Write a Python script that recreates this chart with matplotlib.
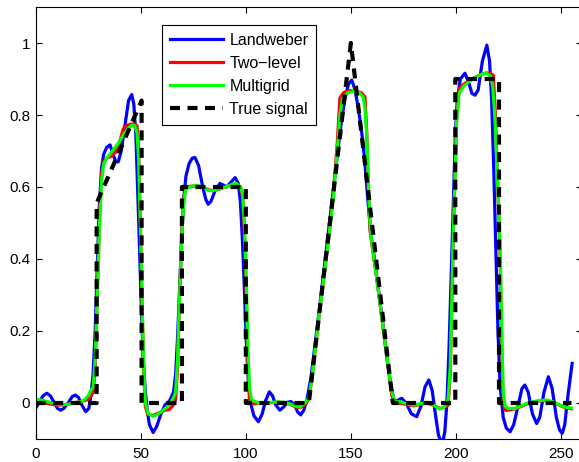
import matplotlib
matplotlib.use("Agg")
import matplotlib.pyplot as plt

# ---------------- data ----------------
true_x = [0, 29, 29, 50.4, 50.4, 69.6, 69.6, 100, 100, 130, 150, 170, 199.7, 199.7, 220.5, 220.5, 255]
true_y = [0, 0, 0.555, 0.84, 0, 0, 0.6, 0.6, 0, 0, 1.0, 0, 0, 0.9, 0.9, 0, 0]

lw_x = [0, 1.5, 3.5, 5.3, 7, 8.9, 10.4, 11.9, 13.4, 15.4, 17.4, 18.9, 20.4, 21.9, 23.8, 25.3, 26.3,
        27.3, 28.3, 29.3, 30.3, 31.3, 32.3, 33.8, 35.4, 36.8, 38.2, 39.3, 40.7, 42.7, 44.2, 45.7,
        46.7, 47.7, 48.5, 49.2, 50.2, 51.2, 52.2, 53.1, 54.1, 55.9, 57.6, 59.6, 61.6, 63.6, 65.6,
        66.6, 67.5, 68.5, 69.5, 70.5, 71.5, 73, 74.5, 75.8, 77.5, 79.5, 81, 82.1, 83.4, 85.4,
        87.7, 89.4, 90.9, 92.4, 94.9, 96.4, 97.4, 98.4, 99.3, 100.3, 101.3, 102.3, 103.8, 106,
        107.8, 109.3, 111.2, 112.7, 114.2, 116.2, 118.2, 119.7, 121.5, 123.2, 124.7, 126.1,
        127.6, 129.1, 131, 135, 139, 143, 145, 147, 148.8, 150.4, 152, 153.5, 155, 156.5, 158,
        159.5, 161, 163, 165, 167, 169, 170.5, 171.3, 174.2, 176.3, 178.8, 181.3, 183.3, 185.3,
        187.1, 188.7, 190.2, 191.7, 193.5, 194.7, 195.7, 196.7, 197.7, 198.7, 199.7, 200.6,
        202.1, 204.3, 206.1, 207.6, 209.1, 210.6, 212.6, 214.7, 216, 217, 218, 219, 220, 221,
        222.5, 224, 225.8, 227.5, 229.5, 231.4, 232.8, 234.4, 236.4, 238.4, 239.9, 241.9, 244,
        245.8, 247.8, 249.3, 250.6, 251.8, 253.3, 255.3]
lw_y = [-0.015, 0.0, 0.02, 0.027, 0.02, 0.0, -0.015, -0.02, -0.015, 0.0, 0.018, 0.022, 0.015,
        -0.005, -0.024, -0.015, 0.02, 0.08, 0.2, 0.38, 0.55, 0.65, 0.69, 0.71, 0.717, 0.69, 0.67,
        0.67, 0.7, 0.78, 0.84, 0.857, 0.83, 0.74, 0.6, 0.47, 0.28, 0.12, 0.03, -0.02, -0.06,
        -0.082, -0.065, -0.03, -0.005, 0.005, 0.03, 0.08, 0.18, 0.32, 0.46, 0.57, 0.63, 0.665,
        0.68, 0.682, 0.66, 0.6, 0.565, 0.552, 0.56, 0.59, 0.61, 0.605, 0.6, 0.61, 0.626, 0.61,
        0.56, 0.45, 0.32, 0.16, 0.05, 0.0, -0.035, -0.052, -0.03, 0.005, 0.031, 0.02, -0.005,
        -0.02, -0.01, 0.002, 0.004, -0.005, -0.025, -0.033, -0.02, 0.01, 0.07, 0.26, 0.46, 0.66,
        0.76, 0.84, 0.885, 0.897, 0.87, 0.82, 0.76, 0.68, 0.57, 0.47, 0.41, 0.32, 0.23, 0.13,
        0.05, 0.01, 0.005, 0.013, 0.0, -0.03, -0.038, -0.01, 0.045, 0.064, 0.035, -0.03, -0.09,
        -0.115, -0.08, 0.0, 0.15, 0.35, 0.55, 0.74, 0.84, 0.9, 0.916, 0.89, 0.86, 0.855, 0.87,
        0.95, 0.994, 0.95, 0.84, 0.65, 0.42, 0.2, 0.05, -0.04, -0.07, -0.08, -0.06, -0.01, 0.04,
        0.05, 0.03, -0.03, -0.057, -0.04, 0.03, 0.073, 0.04, -0.04, -0.075, -0.084, -0.06, 0.02,
        0.11]

mg_x = [0, 3, 6, 9, 12, 15, 18, 21, 23, 25, 26.3, 27.4, 28.3, 29.3, 30.4, 31.4, 32.4, 33.8, 35.8,
        37.8, 39.7, 41.7, 43.7, 45.7, 47.2, 48.2, 49.0, 49.8, 50.6, 51.4, 52.2, 53.6, 55.9, 57.6,
        59.6, 61.6, 63.6, 65.6, 66.6, 67.5, 68.5, 69.5, 70.5, 71.5, 73.5, 76.5, 79.5, 82.4, 84.4,
        87.4, 90.4, 93.4, 95.4, 97.5, 98.5, 99.3, 100.2, 101, 101.8, 102.8, 106.3, 109.3, 112.2,
        115.2, 118.2, 121.2, 124.2, 126.1, 128.1, 130, 131.5, 135, 139.3, 141.5, 143.5, 144.8,
        146, 148.5, 151.5, 154, 155.8, 156.7, 157.6, 158.4, 159.2, 160.5, 162, 164, 166, 168,
        169.5, 171, 174, 177, 180, 183, 186, 189, 192.4, 194.6, 196.3, 197.3, 198.8, 200.4,
        201.5, 203.6, 206.6, 209.6, 212.6, 214.6, 216.5, 217.5, 218.6, 219.8, 221, 221.8, 222.5,
        223.5, 225, 228, 231, 234, 237, 240, 243.2, 246.3, 249.3, 252.3, 255]
mg_y = [0.01, 0.008, 0.003, -0.002, -0.005, -0.004, -0.001, 0.003, 0.008, 0.02, 0.035, 0.045,
        0.12, 0.3, 0.5, 0.62, 0.665, 0.68, 0.695, 0.71, 0.725, 0.745, 0.76, 0.772, 0.77, 0.75,
        0.68, 0.5, 0.3, 0.1, 0.0, -0.03, -0.037, -0.033, -0.025, -0.015, -0.005, 0.015, 0.03,
        0.12, 0.3, 0.46, 0.56, 0.595, 0.6, 0.605, 0.6, 0.59, 0.59, 0.595, 0.6, 0.607, 0.61, 0.6,
        0.58, 0.5, 0.35, 0.15, 0.04, 0.008, 0.0, 0.0, 0.002, 0.003, 0.002, -0.003, -0.01, -0.01,
        0.0, 0.015, 0.07, 0.25, 0.45, 0.56, 0.7, 0.8, 0.845, 0.862, 0.866, 0.862, 0.85, 0.82,
        0.74, 0.6, 0.49, 0.42, 0.36, 0.27, 0.18, 0.09, 0.03, 0.005, 0.003, -0.003, -0.006,
        -0.002, 0.002, -0.005, -0.017, -0.01, 0.01, 0.1, 0.48, 0.79, 0.86, 0.88, 0.895, 0.905,
        0.914, 0.916, 0.908, 0.88, 0.79, 0.62, 0.45, 0.2, 0.03, -0.01, -0.015, -0.015, -0.008,
        0.0, 0.004, 0.007, 0.008, 0.003, -0.005, -0.012, -0.014]

tl_x = [0, 3, 6, 9, 12, 15, 18, 21, 23, 25, 26.3, 27.4, 28.3, 29.3, 30.4, 31.4, 32.4, 33.8, 35.8,
        37.8, 39.7, 41.7, 43.7, 45.7, 47.2, 48.2, 49.0, 49.8, 50.6, 51.4, 52.2, 53.2, 55.6, 57.6,
        59.6, 61.6, 63.6, 65.6, 66.6, 67.5, 68.5, 69.5, 70.5, 71.5, 73.5, 76.5, 79.5, 82.4, 84.4,
        87.4, 90.4, 93.4, 95.4, 97.5, 98.5, 99.3, 100.2, 101, 101.8, 103.3, 106.3, 109.3, 112.2,
        115.2, 118.2, 121.2, 124.2, 126.1, 128.1, 130, 131.5, 135, 139.3, 141.5, 143.5, 144.8,
        146.5, 149, 152, 155, 156.7, 157.5, 158.3, 159.1, 160.5, 162, 164, 166, 168, 169.5, 171,
        174, 177, 180, 183, 186, 189, 192.4, 194.6, 196.3, 197.3, 198.8, 200.4, 201.6, 203.6,
        206.6, 209.6, 212.6, 214.6, 216.5, 217.8, 218.8, 219.8, 221, 221.8, 222.5, 223.5, 225,
        228, 231, 234, 237, 240, 243.2, 246.3, 249.3, 252.3, 255]
tl_y = [0.005, 0.003, -0.002, -0.005, -0.006, -0.004, 0.0, 0.004, 0.006, 0.01, 0.02, 0.03, 0.1,
        0.3, 0.52, 0.64, 0.67, 0.68, 0.685, 0.695, 0.72, 0.762, 0.772, 0.775, 0.775, 0.77, 0.7,
        0.5, 0.28, 0.08, -0.01, -0.03, -0.035, -0.03, -0.025, -0.02, -0.018, -0.005, 0.01, 0.1,
        0.3, 0.47, 0.57, 0.6, 0.602, 0.603, 0.6, 0.592, 0.59, 0.594, 0.6, 0.606, 0.608, 0.6,
        0.57, 0.48, 0.3, 0.1, 0.0, -0.003, 0.0, 0.0, 0.001, 0.002, 0.001, -0.004, -0.012,
        -0.012, -0.005, 0.01, 0.07, 0.25, 0.45, 0.57, 0.72, 0.847, 0.862, 0.868, 0.866, 0.862,
        0.85, 0.76, 0.6, 0.48, 0.42, 0.36, 0.27, 0.18, 0.09, 0.02, 0.0, -0.001, -0.005, -0.008,
        -0.004, 0.0, -0.006, -0.015, -0.012, -0.006, 0.08, 0.48, 0.8, 0.875, 0.885, 0.897,
        0.906, 0.914, 0.917, 0.915, 0.91, 0.8, 0.62, 0.42, 0.15, 0.0, -0.02, -0.02, -0.016,
        -0.01, -0.002, 0.003, 0.006, 0.007, 0.002, -0.006, -0.014, -0.016]

labels = ["Landweber", "Two\u2212level", "Multigrid", "True signal"]
xticks = [0, 50, 100, 150, 200, 250]
yticks = [0, 0.2, 0.4, 0.6, 0.8, 1.0]
ytick_labels = ["0", "0.2", "0.4", "0.6", "0.8", "1"]

# ---------------- plot ----------------
plt.rcParams['font.family'] = ['Liberation Sans', 'DejaVu Sans']
fig = plt.figure(figsize=(5.79, 4.62), dpi=100)
ax = fig.add_axes([35.7 / 579, 23 / 462, 546.3 / 579, 432 / 462])

ax.plot(lw_x, lw_y, color='#0000ff', lw=2.3, label=labels[0], solid_joinstyle='round')
ax.plot(tl_x, tl_y, color='#ff0000', lw=2.3, label=labels[1], solid_joinstyle='round')
ax.plot(mg_x, mg_y, color='#00ff00', lw=2.3, label=labels[2], solid_joinstyle='round')
ax.plot(true_x, true_y, color='black', lw=3.0, ls=(0, (2.4, 1.8)), label=labels[3])

ax.set_xlim(0, 260)
ax.set_ylim(-0.1, 1.1)
ax.set_xticks(xticks)
ax.set_yticks(yticks)
ax.set_yticklabels(ytick_labels)
ax.tick_params(direction='in', length=4.3, width=0.8, top=True, right=True,
               labelsize=11, pad=4)
ax.tick_params(axis='x', pad=6)
for s in ax.spines.values():
    s.set_linewidth(0.8)
    s.set_color('black')

leg = ax.legend(loc='upper left', bbox_to_anchor=(0.2318, 0.9583), borderaxespad=0,
                fancybox=False, framealpha=1, edgecolor='black', fontsize=11.5,
                handlelength=3.3, handletextpad=0.4, labelspacing=0.5, borderpad=0.5)
leg.get_frame().set_linewidth(0.8)

fig.savefig('out.png', dpi=100)
